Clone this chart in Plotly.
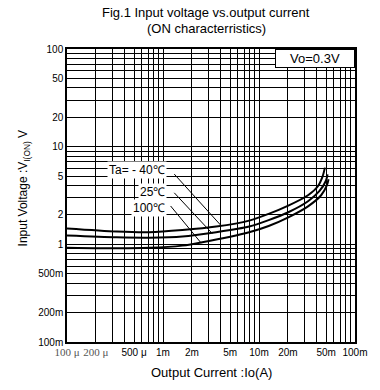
import numpy as np
import plotly.graph_objects as go

# ---- data ----
curve_labels = ["Ta= - 40℃", "25℃", "100℃"]
io_m40 = [0.1e-3, 0.33e-3, 0.72e-3, 1.59e-3, 3.58e-3, 7.9e-3, 12.6e-3, 20.2e-3, 32.4e-3, 40.9e-3, 46e-3, 48.6e-3]
vi_m40 = [1.45, 1.35, 1.33, 1.40, 1.52, 1.75, 2.05, 2.49, 3.18, 3.91, 4.97, 6.1]
io_25 = [0.1e-3, 0.33e-3, 0.72e-3, 1.59e-3, 3.58e-3, 7.9e-3, 12.6e-3, 20.2e-3, 32.4e-3, 42.7e-3, 49.8e-3, 51.8e-3]
vi_25 = [1.23, 1.18, 1.17, 1.20, 1.33, 1.52, 1.77, 2.13, 2.76, 3.52, 4.48, 5.2]
io_100 = [0.1e-3, 0.22e-3, 0.72e-3, 1.59e-3, 2.57e-3, 7.9e-3, 12.6e-3, 20.2e-3, 32.4e-3, 44.4e-3, 50.9e-3, 53e-3]
vi_100 = [0.92, 0.91, 0.92, 0.97, 1.05, 1.33, 1.54, 1.89, 2.45, 3.18, 4.01, 4.64]

# leader lines: (label end point, curve point)
leader_io = [[1.31e-3, 4.04e-3], [1.31e-3, 3.26e-3], [1.2e-3, 2.5e-3]]
leader_vi = [[5.24, 1.55], [3.37, 1.29], [2.47, 1.03]]

x_tick_vals = [1e-4, 2e-4, 5e-4, 1e-3, 2e-3, 5e-3, 1e-2, 2e-2, 5e-2, 1e-1]
x_tick_text = ["100 μ", "200 μ", "500 μ", "1m", "2m", "5m", "10m", "20m", "50m", "100m"]
y_tick_vals = [100, 50, 20, 10, 5, 2, 1, 0.5, 0.2, 0.1]
y_tick_text = ["100", "50", "20", "10", "5", "2", "1", "500m", "200m", "100m"]

title_lines = ["Fig.1 Input voltage vs.output current", "(ON characterristics)"]

FONT = "Liberation Sans, Arial, sans-serif"

def grid_vals(lo, hi):
    vals = []
    for e in range(lo, hi):
        for d in range(1, 10):
            vals.append(d * 10.0 ** e)
    vals.append(10.0 ** hi)
    return vals

def make_ticks(tvals, tlabels, lo, hi, serif_set=()):
    gv = grid_vals(lo, hi)
    txt = []
    for v in gv:
        lab = ""
        for tv, tl in zip(tvals, tlabels):
            if abs(np.log10(v) - np.log10(tv)) < 1e-6:
                lab = tl
                if tl in serif_set:
                    lab = '<span style="font-family:Liberation Serif, serif; font-size:11px; fill:#555">' + tl + '</span>'
        txt.append(lab)
    return gv, txt

xg, xt = make_ticks(x_tick_vals, x_tick_text, -4, -1, serif_set=("100 μ", "200 μ"))
yg, yt = make_ticks(y_tick_vals, y_tick_text, -1, 2)

fig = go.Figure()
for io, vi in [(io_m40, vi_m40), (io_25, vi_25), (io_100, vi_100)]:
    fig.add_trace(go.Scatter(x=io, y=vi, mode="lines",
                             line=dict(color="black", width=2, shape="spline", smoothing=0.8),
                             showlegend=False, hoverinfo="skip"))
for lx, ly in zip(leader_io, leader_vi):
    fig.add_trace(go.Scatter(x=lx, y=ly, mode="lines", line=dict(color="black", width=1),
                             showlegend=False, hoverinfo="skip"))

axis_common = dict(type="log", showgrid=True, gridcolor="black", gridwidth=1,
                   showline=True, linecolor="black", linewidth=1.5, mirror=True,
                   ticks="", zeroline=False, tickfont=dict(family=FONT, size=10, color="black"))

fig.update_xaxes(range=[-4, -1], tickmode="array", tickvals=xg, ticktext=xt, tickangle=0,
                 **axis_common)
fig.update_yaxes(range=[-1, 2], tickmode="array", tickvals=yg, ticktext=yt, **axis_common)

# curve labels
label_y = [0.764, 0.539, 0.371]
for txt, ly in zip(curve_labels, label_y):
    fig.add_annotation(x=-2.96, y=ly, xref="x", yref="y", text=txt, showarrow=False,
                       xanchor="right", yanchor="middle", bgcolor="white",
                       font=dict(family=FONT, size=12, color="black"), borderpad=1)

# Vo box
fig.add_annotation(x=1, y=1, xref="paper", yref="paper", text="Vo=0.3V", showarrow=False,
                   xanchor="right", yanchor="top", bgcolor="white", bordercolor="black",
                   borderwidth=1, borderpad=1, width=76, height=15,
                   font=dict(family=FONT, size=13, color="black"))

# title
for line, py in zip(title_lines, [13, 28]):
    fig.add_annotation(x=(207.5 - 67) / 291, y=(342 - py) / 293, xref="paper", yref="paper",
                       text=line, showarrow=False, xanchor="center", yanchor="middle",
                       font=dict(family=FONT, size=13, color="black"))

# axis titles
fig.add_annotation(x=(24 - 67) / 291, y=(342 - 188) / 293, xref="paper", yref="paper",
                   text="Input Voltage :V<sub>I(ON)</sub> V", textangle=-90, showarrow=False,
                   xanchor="center", yanchor="middle", font=dict(family=FONT, size=12, color="black"))
fig.add_annotation(x=0.5, y=(342 - 372) / 293, xref="paper", yref="paper",
                   text="Output Current :Io(A)", showarrow=False,
                   xanchor="center", yanchor="middle", font=dict(family=FONT, size=13, color="black"))

fig.update_layout(width=380, height=390, margin=dict(l=67, r=22, t=49, b=48),
                  paper_bgcolor="white", plot_bgcolor="white")

fig.write_html("out.html")
